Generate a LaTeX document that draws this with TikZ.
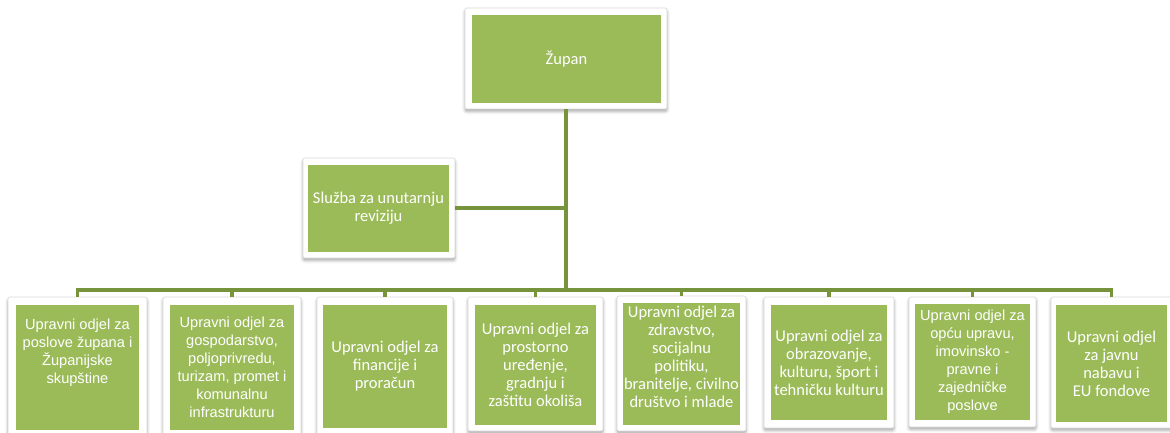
\documentclass[tikz,border=0pt]{standalone}
\usepackage{fontspec}
\setmainfont{Carlito}
\newfontfamily\arialf{Liberation Sans}
\usetikzlibrary{shadows.blur}
\definecolor{boxgreen}{RGB}{155,187,89}
\definecolor{linegreen}{RGB}{119,147,60}
\definecolor{framegray}{RGB}{218,218,218}
\tikzset{
  frame/.style={draw=framegray, line width=0.6pt, fill=white, rounded corners=2pt, inner sep=0pt,
    blur shadow={shadow xshift=0pt, shadow yshift=-2.5pt, shadow blur radius=3pt, shadow opacity=35}},
  gbox/.style={fill=boxgreen, draw=none, inner sep=0pt},
  ctext/.style={text=white, align=center, font=\fontsize{16.5}{18}\selectfont},
  atext/.style={text=white, align=center, font=\arialf\fontsize{14.6}{18}\selectfont},
  conn/.style={draw=linegreen, line width=3.3pt},
}
\begin{document}
\begin{tikzpicture}[x=1pt,y=-1pt]
\useasboundingbox (0,0) rectangle (1170,433);
% top
\node[frame, minimum width=202pt, minimum height=101pt] (fZ) at (566,58.5) {};
\node[gbox, ctext, minimum width=189pt, minimum height=88pt] (Z) at (566.5,59) {Župan};
\node[frame, minimum width=152pt, minimum height=100pt] (fS) at (379,208) {};
\node[gbox, ctext, minimum width=141pt, minimum height=87pt] (S) at (378.5,208.5) {Služba za unutarnju\\reviziju};
% bottom row frames
\node[frame, minimum width=139pt, minimum height=143pt] (f1) at (77.5,368.5) {};
\node[frame, minimum width=138pt, minimum height=143pt] (f2) at (232,368.5) {};
\node[frame, minimum width=136pt, minimum height=140pt] (f3) at (385,367) {};
\node[frame, minimum width=135pt, minimum height=134pt] (f4) at (535.5,364) {};
\node[frame, minimum width=129pt, minimum height=135pt] (f5) at (681.5,363.5) {};
\node[frame, minimum width=130pt, minimum height=131pt] (f6) at (829,362.5) {};
\node[frame, minimum width=127pt, minimum height=130pt] (f7) at (972.5,362) {};
\node[frame, minimum width=121pt, minimum height=131pt] (f8) at (1111.5,362.5) {};
% bottom row green boxes
\node[gbox, minimum width=123pt, minimum height=125pt,
  label={[atext, yshift=15pt]center:{Upravni odjel za\\poslove župana i\\Županijske\\skupštine}}] (b1) at (77.5,367.5) {};
\node[gbox, atext, minimum width=124pt, minimum height=125pt] (b2) at (232,367.5)
  {Upravni odjel za\\gospodarstvo,\\poljoprivredu,\\turizam, promet i\\komunalnu\\infrastrukturu};
\node[gbox, ctext, minimum width=124pt, minimum height=123pt] (b3) at (385,366.5)
  {Upravni odjel za\\financije i\\proračun};
\node[gbox, ctext, minimum width=121pt, minimum height=120pt] (b4) at (535.5,365)
  {Upravni odjel za\\prostorno\\uređenje,\\gradnju i\\zaštitu okoliša};
\node[gbox, minimum width=117pt, minimum height=122pt,
  label={[ctext, yshift=7pt]center:{Upravni odjel za\\zdravstvo,\\socijalnu\\politiku,\\branitelje, civilno\\društvo i mlade}}] (b5) at (681.5,364) {};
\node[gbox, ctext, minimum width=116pt, minimum height=115pt] (b6) at (829,362.5)
  {Upravni odjel za\\obrazovanje,\\kulturu, šport i\\tehničku kulturu};
\node[gbox, atext, minimum width=115pt, minimum height=116pt] (b7) at (972.5,362)
  {Upravni odjel za\\opću upravu,\\imovinsko -\\pravne i\\zajedničke\\poslove};
\node[gbox, ctext, minimum width=111pt, minimum height=117pt] (b8) at (1111.5,363.5)
  {Upravni odjel\\za javnu\\nabavu i\\EU fondove};
% connectors
\coordinate (bus) at (566,290);
\draw[conn] (fZ.south) -- (fZ.south |- bus);
\draw[conn] (fS.east) -- (fS.east -| fZ.south);
\draw[conn, line join=miter] (f1.north) -- (f1.north |- bus) -- (f8.north |- bus) -- (f8.north);
\foreach \i in {2,...,7} {
  \draw[conn] (f\i.north |- bus) -- (f\i.north);
}
\end{tikzpicture}
\end{document}
